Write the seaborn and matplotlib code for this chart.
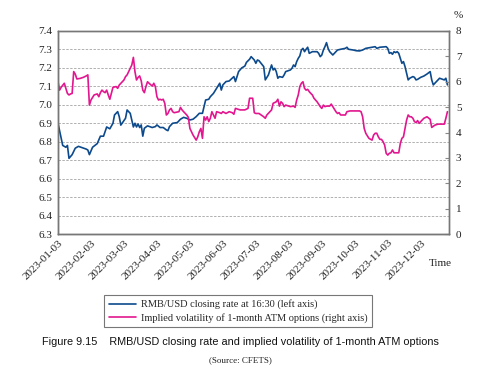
import matplotlib
matplotlib.use("Agg")
import matplotlib.pyplot as plt
import seaborn as sns
import pandas as pd
from matplotlib.lines import Line2D

# ---- data (trading-day index) ----
rate_day = [0, 3, 5, 6, 7, 9, 11, 13, 18, 19, 20, 22, 25, 27, 29, 31, 33, 35, 36, 38, 39, 40,
            43, 44, 46, 47, 48, 49, 50, 51, 52, 53, 54, 55, 57, 60, 62, 63, 65, 67, 69, 70, 71,
            73, 76, 78, 80, 82, 84, 86, 88, 90, 92, 94, 96, 97, 99, 101, 103, 104, 105, 107,
            109, 112, 113, 115, 117, 119, 120, 122, 123, 125, 126, 127, 128, 131, 132, 134,
            136, 137, 138, 139, 140, 141, 143, 144, 145, 148, 149, 150, 151, 152, 153, 154,
            155, 156, 157, 158, 159, 160, 162, 165, 166, 167, 168, 169, 170, 171, 172, 173,
            175, 176, 178, 180, 183, 184, 185, 188, 190, 192, 194, 196, 200, 202, 203, 205,
            209, 210, 211, 212, 213, 214, 215, 216, 217, 218, 219, 220, 221, 222, 223, 224,
            226, 227, 228, 229, 231, 233, 235, 237, 238, 239, 241, 243, 245, 246, 247, 248]
rate_val = [6.90, 6.78, 6.77, 6.78, 6.71, 6.73, 6.765, 6.775, 6.76, 6.755, 6.73, 6.77, 6.79,
            6.83, 6.83, 6.88, 6.87, 6.90, 6.945, 6.963, 6.936, 6.89, 6.927, 6.972, 6.954,
            6.918, 6.88, 6.90, 6.88, 6.896, 6.877, 6.891, 6.83, 6.873, 6.886, 6.877, 6.882,
            6.891, 6.877, 6.877, 6.864, 6.86, 6.882, 6.90, 6.904, 6.922, 6.932, 6.927, 6.918,
            6.922, 6.936, 6.954, 6.954, 7.026, 7.03, 7.044, 7.062, 7.09, 7.117, 7.08, 7.108,
            7.126, 7.129, 7.153, 7.126, 7.18, 7.20, 7.21, 7.23, 7.247, 7.261, 7.243, 7.225,
            7.243, 7.239, 7.207, 7.135, 7.162, 7.216, 7.189, 7.198, 7.18, 7.144, 7.153, 7.149,
            7.162, 7.18, 7.189, 7.198, 7.216, 7.207, 7.234, 7.252, 7.265, 7.297, 7.306, 7.288,
            7.301, 7.312, 7.279, 7.288, 7.288, 7.279, 7.261, 7.27, 7.297, 7.315, 7.337, 7.306,
            7.288, 7.27, 7.279, 7.297, 7.301, 7.306, 7.312, 7.301, 7.297, 7.293, 7.292, 7.297,
            7.306, 7.312, 7.315, 7.306, 7.312, 7.315, 7.306, 7.279, 7.283, 7.274, 7.288, 7.283,
            7.288, 7.279, 7.252, 7.225, 7.234, 7.207, 7.171, 7.135, 7.144, 7.153, 7.149, 7.135,
            7.138, 7.149, 7.156, 7.167, 7.18, 7.135, 7.108, 7.126, 7.144, 7.138, 7.135, 7.144,
            7.108]

vol_day = [0, 1, 2, 4, 6, 7, 8, 9, 10, 11, 12, 14, 16, 18, 19, 20, 21, 23, 25, 26, 27, 28, 29,
           30, 31, 32, 33, 35, 37, 38, 39, 42, 43, 44, 45, 46, 47, 48, 49, 50, 51, 52, 53, 54,
           55, 56, 57, 58, 60, 61, 62, 63, 64, 65, 66, 67, 68, 69, 70, 71, 72, 73, 74, 77, 78,
           79, 80, 82, 83, 84, 85, 86, 88, 89, 90, 91, 92, 93, 94, 95, 96, 97, 98, 99, 100, 101,
           103, 104, 105, 107, 109, 111, 112, 113, 116, 119, 121, 122, 124, 125, 126, 128, 131,
           132, 133, 135, 136, 137, 139, 140, 141, 142, 143, 144, 145, 148, 150, 151, 152, 153,
           154, 155, 156, 157, 158, 159, 160, 161, 162, 163, 165, 167, 168, 169, 170, 171, 173,
           174, 175, 177, 178, 179, 180, 183, 184, 186, 189, 192, 193, 194, 195, 196, 198, 200,
           201, 202, 203, 204, 205, 206, 207, 208, 209, 210, 211, 212, 213, 214, 215, 217, 218,
           219, 220, 221, 222, 223, 224, 225, 226, 227, 228, 229, 230, 231, 233, 235, 237, 238,
           240, 242, 244, 246, 247, 248]
vol_val = [6.00, 5.67, 5.78, 5.94, 5.54, 5.48, 5.52, 5.54, 6.40, 6.30, 6.11, 6.13, 6.17, 6.23,
           6.27, 5.08, 5.28, 5.48, 5.52, 5.41, 5.57, 5.67, 5.61, 5.57, 5.67, 5.48, 5.31, 5.78,
           5.81, 5.74, 5.87, 6.07, 6.20, 6.27, 6.40, 6.53, 6.66, 6.96, 6.40, 6.07, 6.17, 6.23,
           6.04, 5.67, 5.57, 5.81, 6.00, 5.94, 5.83, 5.94, 5.81, 5.41, 5.28, 5.31, 5.28, 5.31,
           5.15, 4.69, 4.75, 4.89, 4.95, 4.82, 4.78, 4.82, 4.99, 4.89, 4.82, 4.69, 4.60, 4.16,
           4.03, 3.90, 3.70, 3.83, 4.03, 4.16, 3.77, 4.62, 4.49, 4.62, 4.43, 4.56, 4.82, 4.69,
           4.56, 4.82, 4.78, 4.75, 4.82, 4.75, 4.82, 4.78, 4.72, 4.95, 4.89, 4.89, 4.95, 5.35,
           5.35, 4.78, 4.75, 4.75, 4.62, 4.56, 4.69, 4.82, 4.89, 5.15, 5.21, 5.31, 5.04, 5.21,
           5.15, 5.02, 5.08, 5.02, 5.04, 4.99, 5.28, 5.48, 5.81, 5.94, 6.00, 5.74, 5.67, 5.70,
           5.61, 5.54, 5.48, 5.35, 5.21, 5.02, 4.95, 5.08, 5.02, 5.04, 5.04, 5.12, 5.02, 4.82,
           4.75, 4.78, 4.69, 4.69, 4.82, 4.85, 4.85, 4.85, 4.82, 4.62, 4.16, 3.97, 3.77, 3.70,
           3.90, 3.97, 3.97, 3.83, 3.73, 3.73, 3.64, 3.51, 3.18, 3.11, 3.18, 3.20, 3.31, 3.20,
           3.20, 3.20, 3.57, 3.77, 3.83, 4.16, 4.49, 4.69, 4.62, 4.62, 4.56, 4.43, 4.39, 4.47,
           4.36, 4.43, 4.56, 4.62, 4.52, 4.20, 4.29, 4.33, 4.33, 4.33, 4.56, 4.82]

tick_labels = ["2023-01-03", "2023-02-03", "2023-03-03", "2023-04-03", "2023-05-03",
               "2023-06-03", "2023-07-03", "2023-08-03", "2023-09-03", "2023-10-03",
               "2023-11-03", "2023-12-03"]
left_ticks = [6.3, 6.4, 6.5, 6.6, 6.7, 6.8, 6.9, 7.0, 7.1, 7.2, 7.3, 7.4]
right_ticks = [0, 1, 2, 3, 4, 5, 6, 7, 8]

rate_name = "RMB/USD closing rate at 16:30 (left axis)"
vol_name = "Implied volatility of 1-month ATM options (right axis)"

# ---- style ----
sns.set_style("white")
plt.rcParams['font.family'] = ['Liberation Serif', 'DejaVu Serif']

BLUE = "#0d4a8c"
PINK = "#e2168f"

fig = plt.figure(figsize=(4.95, 3.84), dpi=100)
ax = fig.add_axes([58/495, 1-234/384, (449-58)/495, (234-31)/384])
ax2 = ax.twinx()

df_rate = pd.DataFrame({"day": rate_day, "value": rate_val})
df_vol = pd.DataFrame({"day": vol_day, "value": vol_val})

sns.lineplot(data=df_rate, x="day", y="value", ax=ax, color=BLUE, lw=1.2)
sns.lineplot(data=df_vol, x="day", y="value", ax=ax2, color=PINK, lw=1.2)

ax.set_xlim(0, 249)
ax.set_ylim(6.3, 7.4)
ax2.set_ylim(0, 8)

ax.set_yticks(left_ticks)
ax.set_yticklabels([f"{v:.1f}" for v in left_ticks], fontsize=8)
ax2.set_yticks(right_ticks)
ax2.set_yticklabels([str(v) for v in right_ticks], fontsize=8)

step = 21
ax.set_xticks([i * step for i in range(len(tick_labels))])
ax.set_xticklabels(tick_labels, rotation=45, ha="right", rotation_mode="anchor", fontsize=8)

ax.set_xlabel("")
ax.set_ylabel("")
ax2.set_ylabel("")

for t in left_ticks[1:-1]:
    ax.axhline(t, color="#b0b0b0", lw=0.7, ls=(0, (2.5, 1.5)), zorder=0)

for a in (ax, ax2):
    for s in a.spines.values():
        s.set_color("#777777")
        s.set_linewidth(1.0)
ax.spines['left'].set_color("#555555")
ax.spines['bottom'].set_color("#555555")

ax.tick_params(axis="x", direction="in", length=4, color="#888888", pad=3, labelcolor="#222222")
ax.tick_params(axis="y", direction="in", length=0, pad=4, labelcolor="#222222")
ax2.tick_params(axis="y", direction="in", length=3, color="#888888", pad=5, labelcolor="#222222")

fig.text(458/495, 1-15/384, "%", fontsize=8, ha="center", va="center", color="#222222")
fig.text(440/495, 1-263/384, "Time", fontsize=8, ha="center", va="center", color="#222222")

handles = [Line2D([], [], color=BLUE, lw=1.2), Line2D([], [], color=PINK, lw=1.2)]
leg = fig.legend(handles, [rate_name, vol_name], loc="center",
                 bbox_to_anchor=(238/495, 1-311/384), fontsize=7.5, frameon=True,
                 fancybox=False, edgecolor="#555555", handlelength=2.6, handletextpad=0.5,
                 borderpad=0.4, labelspacing=0.3)
leg.get_frame().set_linewidth(0.8)

fig.text(240/495, 1-342/384,
         "Figure 9.15    RMB/USD closing rate and implied volatility of 1-month ATM options",
         fontsize=7.8, ha="center", va="center", color="#111111",
         family=['Liberation Sans Narrow', 'Liberation Sans', 'DejaVu Sans'])
fig.text(240/495, 1-360/384, "(Source: CFETS)", fontsize=6.5, ha="center", va="center",
         color="#222222")

fig.savefig("out.png", dpi=100)
